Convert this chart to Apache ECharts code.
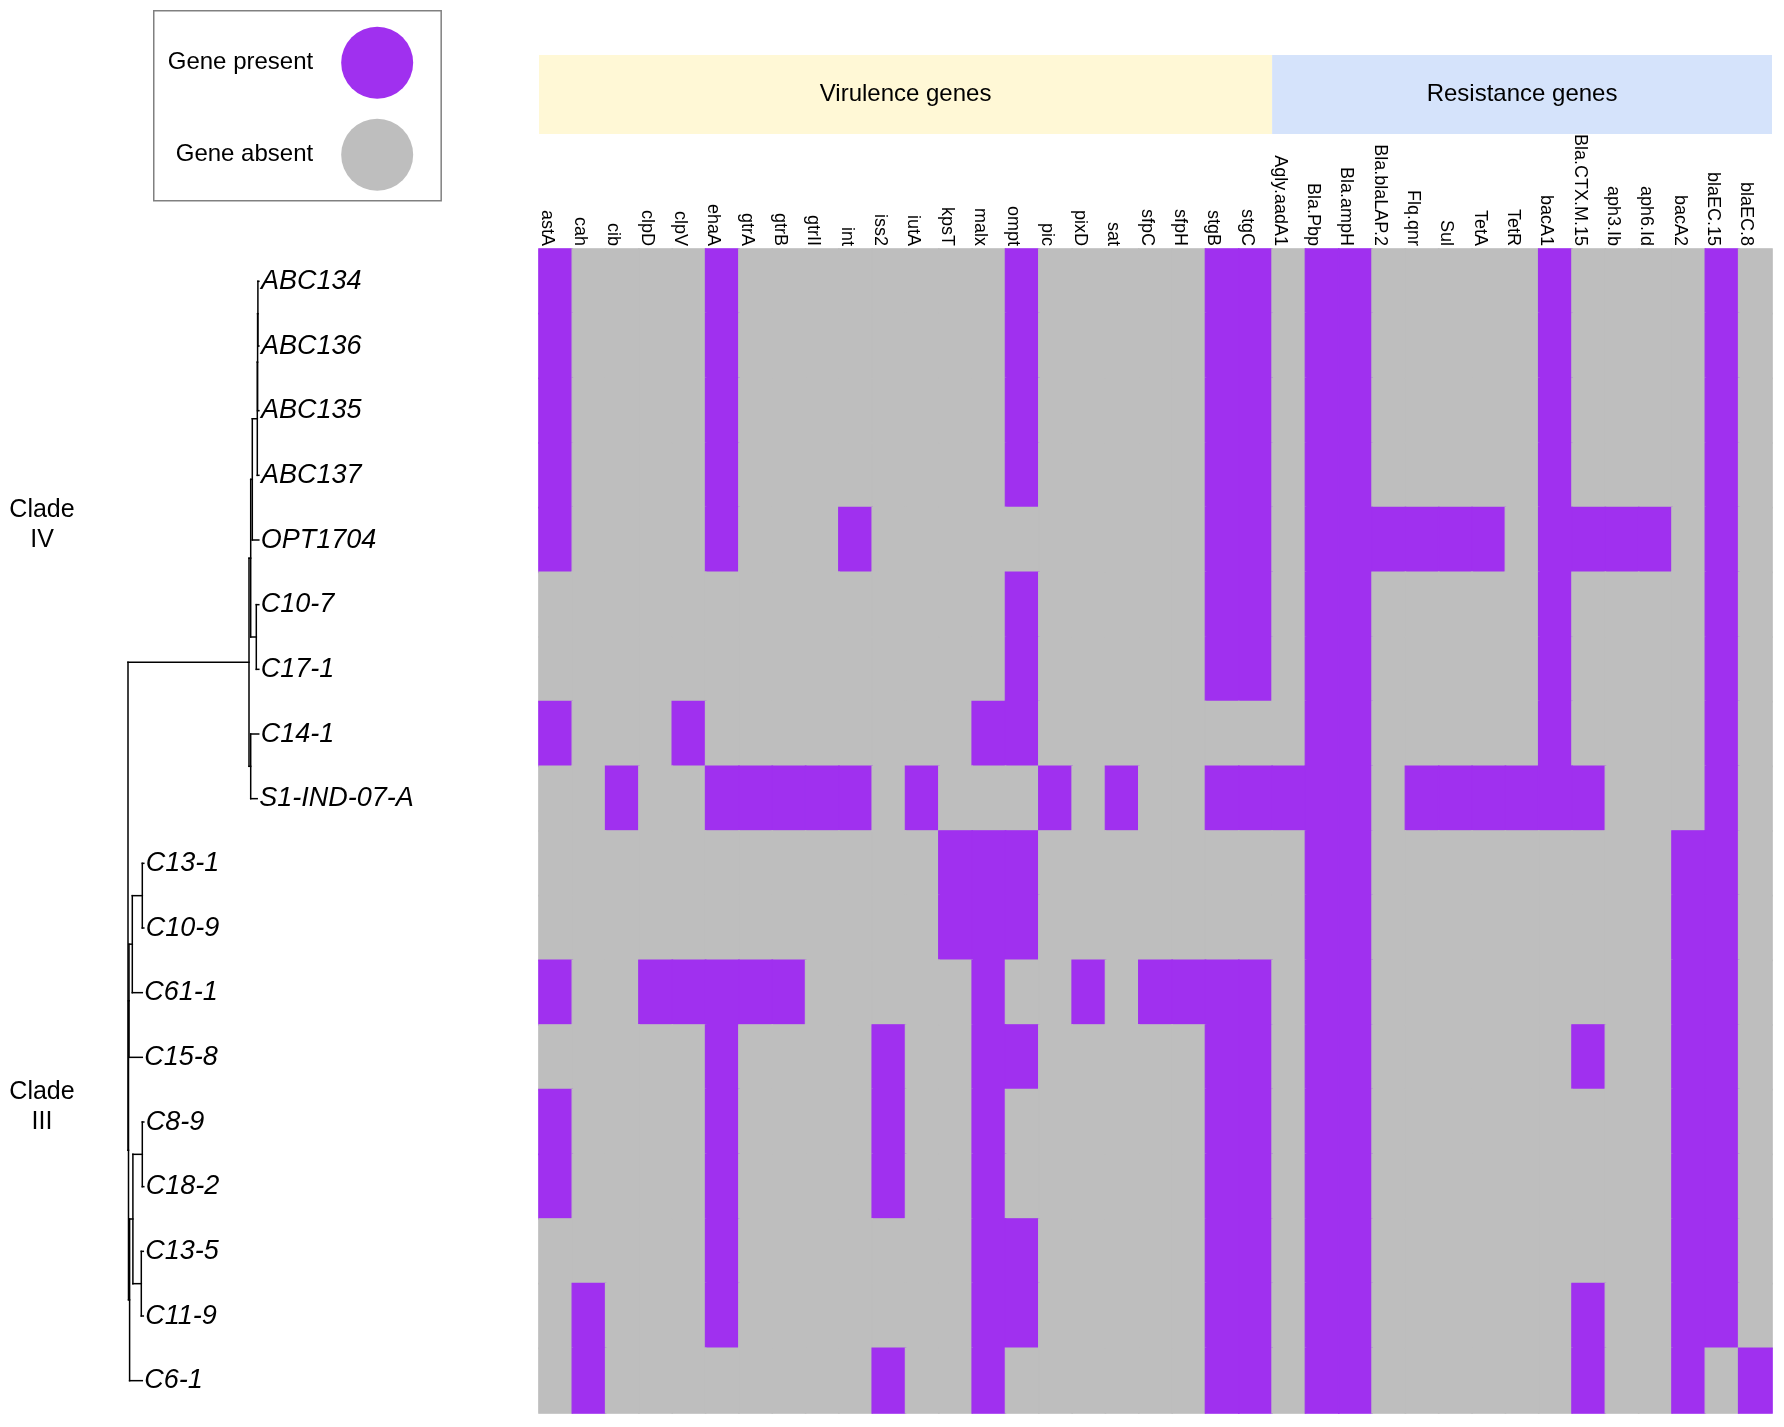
<!DOCTYPE html>
<html><head><meta charset="utf-8">
<script src="https://cdn.jsdelivr.net/npm/echarts@6/dist/echarts.min.js"></script>
<style>html,body{margin:0;padding:0;background:#fff}#c{width:1784px;height:1427px}</style>
</head><body><div id="c"></div>
<script>
// ---------------- data ----------------
const virulenceGenes = ['astA','cah','cib','clpD','clpV','ehaA','gtrA','gtrB','gtrII','int','iss2','iutA','kpsT','malx','ompt','pic','pixD','sat','sfpC','sfpH','stgB','stgC'];
const resistanceGenes = ['Agly.aadA1','Bla.Pbp','Bla.ampH','Bla.blaLAP.2','Flq.qnr','Sul','TetA','TetR','bacA1','Bla.CTX.M.15','aph3.Ib','aph6.Id','bacA2','blaEC.15','blaEC.8'];
const groupNames = ['Virulence genes','Resistance genes'];
const groupColors = ['#FFF8D6','#D5E3FB'];
const isolates = ['ABC134','ABC136','ABC135','ABC137','OPT1704','C10-7','C17-1','C14-1','S1-IND-07-A','C13-1','C10-9','C61-1','C15-8','C8-9','C18-2','C13-5','C11-9','C6-1'];

// presence (1) / absence (0), one row per isolate, columns in gene order
const virulencePresence = [
  [1,0,0,0,0,1,0,0,0,0,0,0,0,0,1,0,0,0,0,0,1,1], // ABC134
  [1,0,0,0,0,1,0,0,0,0,0,0,0,0,1,0,0,0,0,0,1,1], // ABC136
  [1,0,0,0,0,1,0,0,0,0,0,0,0,0,1,0,0,0,0,0,1,1], // ABC135
  [1,0,0,0,0,1,0,0,0,0,0,0,0,0,1,0,0,0,0,0,1,1], // ABC137
  [1,0,0,0,0,1,0,0,0,1,0,0,0,0,0,0,0,0,0,0,1,1], // OPT1704
  [0,0,0,0,0,0,0,0,0,0,0,0,0,0,1,0,0,0,0,0,1,1], // C10-7
  [0,0,0,0,0,0,0,0,0,0,0,0,0,0,1,0,0,0,0,0,1,1], // C17-1
  [1,0,0,0,1,0,0,0,0,0,0,0,0,1,1,0,0,0,0,0,0,0], // C14-1
  [0,0,1,0,0,1,1,1,1,1,0,1,0,0,0,1,0,1,0,0,1,1], // S1-IND-07-A
  [0,0,0,0,0,0,0,0,0,0,0,0,1,1,1,0,0,0,0,0,0,0], // C13-1
  [0,0,0,0,0,0,0,0,0,0,0,0,1,1,1,0,0,0,0,0,0,0], // C10-9
  [1,0,0,1,1,1,1,1,0,0,0,0,0,1,0,0,1,0,1,1,1,1], // C61-1
  [0,0,0,0,0,1,0,0,0,0,1,0,0,1,1,0,0,0,0,0,1,1], // C15-8
  [1,0,0,0,0,1,0,0,0,0,1,0,0,1,0,0,0,0,0,0,1,1], // C8-9
  [1,0,0,0,0,1,0,0,0,0,1,0,0,1,0,0,0,0,0,0,1,1], // C18-2
  [0,0,0,0,0,1,0,0,0,0,0,0,0,1,1,0,0,0,0,0,1,1], // C13-5
  [0,1,0,0,0,1,0,0,0,0,0,0,0,1,1,0,0,0,0,0,1,1], // C11-9
  [0,1,0,0,0,0,0,0,0,0,1,0,0,1,0,0,0,0,0,0,1,1]  // C6-1
];
const resistancePresence = [
  [0,1,1,0,0,0,0,0,1,0,0,0,0,1,0], // ABC134
  [0,1,1,0,0,0,0,0,1,0,0,0,0,1,0], // ABC136
  [0,1,1,0,0,0,0,0,1,0,0,0,0,1,0], // ABC135
  [0,1,1,0,0,0,0,0,1,0,0,0,0,1,0], // ABC137
  [0,1,1,1,1,1,1,0,1,1,1,1,0,1,0], // OPT1704
  [0,1,1,0,0,0,0,0,1,0,0,0,0,1,0], // C10-7
  [0,1,1,0,0,0,0,0,1,0,0,0,0,1,0], // C17-1
  [0,1,1,0,0,0,0,0,1,0,0,0,0,1,0], // C14-1
  [1,1,1,0,1,1,1,1,1,1,0,0,0,1,0], // S1-IND-07-A
  [0,1,1,0,0,0,0,0,0,0,0,0,1,1,0], // C13-1
  [0,1,1,0,0,0,0,0,0,0,0,0,1,1,0], // C10-9
  [0,1,1,0,0,0,0,0,0,0,0,0,1,1,0], // C61-1
  [0,1,1,0,0,0,0,0,0,1,0,0,1,1,0], // C15-8
  [0,1,1,0,0,0,0,0,0,0,0,0,1,1,0], // C8-9
  [0,1,1,0,0,0,0,0,0,0,0,0,1,1,0], // C18-2
  [0,1,1,0,0,0,0,0,0,0,0,0,1,1,0], // C13-5
  [0,1,1,0,0,0,0,0,0,1,0,0,1,1,0], // C11-9
  [0,1,1,0,0,0,0,0,0,1,0,0,1,0,1]  // C6-1
];

// dendrogram (Newick with branch lengths)
const treeNewick = '(((((((ABC134:0.01,ABC136:0.01):0.003,ABC135:0.013):0.003,ABC137:0.016):0.05,OPT1704:0.065):0.016,(C10-7:0.025,C17-1:0.025):0.056):0.017,(C14-1:0.08,S1-IND-07-A:0.065):0.017):1.21,((((C13-1:0.015,C10-9:0.015):0.10,C61-1:0.10):0.033,C15-8:0.133):0.005,(((C8-9:0.015,C18-2:0.015):0.094,(C13-5:0.02,C11-9:0.02):0.084):0.033,C6-1:0.127):0.011):0.005);';

const cladeNames = ['Clade\nIV','Clade\nIII'];
const cladeFirst = ['ABC134','C13-1'];
const cladeLast = ['S1-IND-07-A','C6-1'];

const legendLabels = ['Gene present','Gene absent'];
const PURPLE = '#A030EF', GRAY = '#BEBEBE';
const FONT = 'Liberation Sans, Arial, sans-serif';

// ---------------- build ----------------
const genes = virulenceGenes.concat(resistanceGenes);
const heatData = [];
isolates.forEach((iso, r) => {
  const row = virulencePresence[r].concat(resistancePresence[r]);
  row.forEach((v, c) => heatData.push({
    value: [c, r, v],
    itemStyle: { borderColor: v ? PURPLE : GRAY, borderWidth: 1.1 }
  }));
});
const groupData = [];
let start = 0;
[virulenceGenes, resistanceGenes].forEach((g, k) => {
  groupData.push([start, start + g.length - 1, k]);
  start += g.length;
});

function parseNewick(s) {
  let i = 0;
  function node() {
    const n = { children: [], name: '', len: 0 };
    if (s[i] === '(') {
      i++;
      n.children.push(node());
      while (s[i] === ',') { i++; n.children.push(node()); }
      i++;
    }
    let name = '';
    while (i < s.length && !':,();'.includes(s[i])) name += s[i++];
    n.name = name;
    if (s[i] === ':') {
      i++; let num = '';
      while (i < s.length && !',();'.includes(s[i])) num += s[i++];
      n.len = parseFloat(num);
    }
    return n;
  }
  return node();
}
const tree = parseNewick(treeNewick);
const treeNodes = [];
const treeNames = [];
function layoutTree(n, parentX) {
  n.x = parentX + n.len;
  if (!n.children.length) {
    n.y = isolates.indexOf(n.name);
  } else {
    n.children.forEach(c => layoutTree(c, n.x));
    n.y = (n.children[0].y + n.children[n.children.length - 1].y) / 2;
  }
  const leaf = n.children.length ? 0 : 1;
  const top = leaf ? n.y : n.children[0].y;
  const bot = leaf ? n.y : n.children[n.children.length - 1].y;
  treeNodes.push([n.x, n.y, parentX, top, bot, leaf]);
  treeNames.push(n.name);
}
layoutTree(tree, 0);
const cladeData = cladeNames.map((c, k) => [isolates.indexOf(cladeFirst[k]), isolates.indexOf(cladeLast[k]), k]);

// ---------------- chart ----------------
const chart = echarts.init(document.getElementById('c'), null, { renderer: 'canvas' });
const G = { left: 539, top: 249, width: 1233, height: 1164 };
chart.setOption({
  backgroundColor: '#fff',
  animation: false,
  textStyle: { fontFamily: FONT },
  grid: [
    { left: G.left, top: G.top, width: G.width, height: G.height, show: true, backgroundColor: GRAY, borderWidth: 0 },
    { left: G.left, top: 55, width: G.width, height: 79 },
    { left: 0, top: G.top, width: G.left, height: G.height }
  ],
  xAxis: [
    { type: 'category', gridIndex: 0, data: genes, position: 'top',
      axisLine: { show: false }, axisTick: { show: false }, splitLine: { show: false },
      axisLabel: { rotate: 90, interval: 0, fontSize: 18, color: '#000', margin: 3, verticalAlign: 'top', fontFamily: FONT } },
    { type: 'category', gridIndex: 1, data: genes, show: false },
    { type: 'value', gridIndex: 2, min: -1.28, max: 4.11, show: false }
  ],
  yAxis: [
    { type: 'category', gridIndex: 0, data: isolates, inverse: true, show: false },
    { type: 'value', gridIndex: 1, min: 0, max: 1, show: false },
    { type: 'value', gridIndex: 2, min: -0.5, max: 17.5, inverse: true, show: false }
  ],
  visualMap: {
    type: 'piecewise', seriesIndex: 0, dimension: 2,
    pieces: [
      { value: 1, label: legendLabels[0], color: PURPLE },
      { value: 0, label: legendLabels[1], color: GRAY }
    ],
    orient: 'vertical', left: 153, top: 10,
    itemWidth: 72, itemHeight: 72, itemGap: 20, itemSymbol: 'circle',
    align: 'right', textGap: 28, selectedMode: false,
    borderColor: '#808080', borderWidth: 1.5, padding: [16, 28, 10, 14],
    textStyle: { fontSize: 24, color: '#000', fontFamily: FONT }
  },
  series: [
    { type: 'heatmap', xAxisIndex: 0, yAxisIndex: 0, data: heatData,
      emphasis: { disabled: true }, silent: true },
    { type: 'custom', xAxisIndex: 1, yAxisIndex: 1, data: groupData, silent: true, clip: false,
      renderItem(params, api) {
        const s = api.value(0), e = api.value(1), k = api.value(2);
        const bw = api.size([1, 0])[0];
        const p0 = api.coord([s, 1]), p1 = api.coord([e, 0]);
        const x0 = p0[0] - bw / 2, x1 = p1[0] + bw / 2;
        return { type: 'group', children: [
          { type: 'rect', shape: { x: x0, y: p0[1], width: x1 - x0, height: p1[1] - p0[1] }, style: { fill: groupColors[k] } },
          { type: 'text', style: { x: (x0 + x1) / 2, y: (p0[1] + p1[1]) / 2, text: groupNames[k], fill: '#000', fontSize: 24, fontFamily: FONT, align: 'center', verticalAlign: 'middle' } }
        ] };
      } },
    { type: 'custom', xAxisIndex: 2, yAxisIndex: 2, data: treeNodes, silent: true, clip: false,
      renderItem(params, api) {
        const x = api.value(0), y = api.value(1), px = api.value(2), t = api.value(3), b = api.value(4), leaf = api.value(5);
        const p = api.coord([x, y]), pp = api.coord([px, y]);
        const ls = { stroke: '#000', lineWidth: 1.5, lineCap: 'square' };
        const ch = [];
        if (px !== x) ch.push({ type: 'line', shape: { x1: pp[0], y1: p[1], x2: p[0], y2: p[1] }, style: ls });
        if (!leaf) {
          const pt = api.coord([x, t]), pb = api.coord([x, b]);
          ch.push({ type: 'line', shape: { x1: p[0], y1: pt[1], x2: p[0], y2: pb[1] }, style: ls });
        } else {
          ch.push({ type: 'text', style: { x: p[0] + 2, y: p[1], text: treeNames[params.dataIndex], fill: '#000', fontSize: 27, fontStyle: 'italic', fontFamily: FONT, align: 'left', verticalAlign: 'middle' } });
        }
        return { type: 'group', children: ch };
      } },
    { type: 'custom', xAxisIndex: 2, yAxisIndex: 2, data: cladeData, silent: true, clip: false,
      renderItem(params, api) {
        const mid = (api.value(0) + api.value(1)) / 2;
        const p = api.coord([0, mid]);
        return { type: 'text', style: { x: 42, y: p[1] - 15, text: cladeNames[api.value(2)], fill: '#000', fontSize: 25, lineHeight: 30, fontFamily: FONT, align: 'center', verticalAlign: 'middle' } };
      } }
  ]
});
</script>
</body></html>
